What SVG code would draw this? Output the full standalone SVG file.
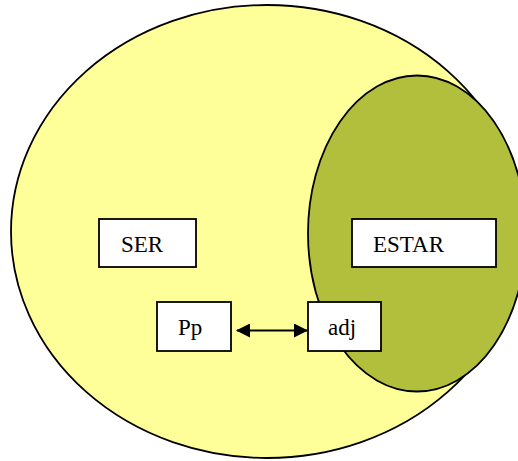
<svg xmlns="http://www.w3.org/2000/svg" width="518" height="461" viewBox="0 0 518 461">
<style>
.box{fill:#ffffff;stroke:#000;stroke-width:1.8}
.lbl{font-family:"Liberation Serif","Times New Roman",serif;font-size:23px;fill:#000}
.conn{stroke:#000;stroke-width:2.2;fill:none}
</style>
<defs>
<marker id="ah" viewBox="0 0 14 14" refX="13" refY="7" markerWidth="14" markerHeight="14" markerUnits="userSpaceOnUse" orient="auto-start-reverse">
<path d="M0,0 L14,7 L0,14 Z" fill="#000"/>
</marker>
</defs>
<rect width="518" height="461" fill="#ffffff"/>
<g id="ser-set">
<ellipse cx="267" cy="231.5" rx="256" ry="226.5" fill="#ffff99" stroke="#000" stroke-width="1.8"/>
</g>
<g id="estar-set">
<ellipse cx="417" cy="233.5" rx="109" ry="158" fill="#b2bf3d" stroke="#000" stroke-width="1.8"/>
</g>
<g id="ser">
<rect class="box" x="99" y="219" width="97" height="48"/>
<text class="lbl" x="121" y="252">SER</text>
</g>
<g id="estar">
<rect class="box" x="352" y="219" width="144" height="48"/>
<text class="lbl" x="373" y="252">ESTAR</text>
</g>
<g id="pp">
<rect class="box" x="157" y="302" width="74" height="49"/>
<text class="lbl" x="178" y="335">Pp</text>
</g>
<g id="adj">
<rect class="box" x="308" y="302" width="73" height="49"/>
<text class="lbl" x="328" y="335">adj</text>
</g>
<g id="connectors">
<line class="conn" x1="237" y1="330.5" x2="307" y2="330.5" marker-start="url(#ah)" marker-end="url(#ah)"/>
</g>
</svg>
